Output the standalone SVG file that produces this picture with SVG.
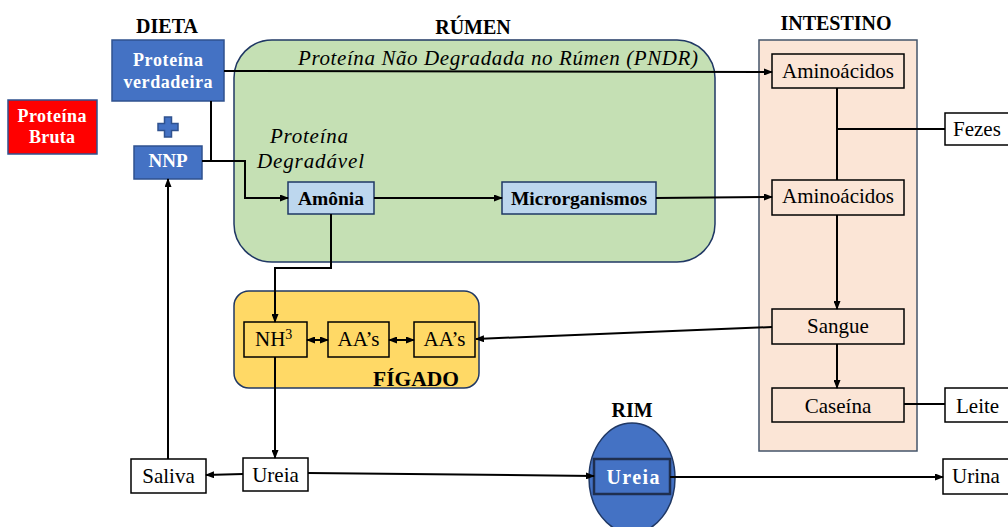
<svg xmlns="http://www.w3.org/2000/svg" width="1008" height="527" viewBox="0 0 1008 527" font-family="'Liberation Serif', 'Times New Roman', serif">
<style>
text{font-family:"Liberation Serif","Times New Roman",serif;fill:#000}
.h{font-family:"Liberation Serif",serif;font-size:20px;font-weight:bold;text-anchor:middle}
.w{font-family:"Liberation Serif",serif;fill:#fff;font-weight:bold;text-anchor:middle;font-size:18px}
.b{font-family:"Liberation Serif",serif;font-weight:bold;text-anchor:middle;font-size:19.5px}
.n{font-family:"Liberation Serif",serif;font-size:21px;text-anchor:middle}
.s{font-family:"Liberation Serif",serif;font-size:21px}
.i{font-family:"Liberation Serif",serif;font-style:italic;font-size:21px}
.box{fill:#fff;stroke:#000;stroke-width:1.5}
.pch{fill:#FBE5D6;stroke:#000;stroke-width:1.5}
.yel{fill:#FFD966;stroke:#000;stroke-width:1.5}
.lb{fill:#BDD7EE;stroke:#1F3864;stroke-width:1.5}
.blue{fill:#4472C4;stroke:#2F528F;stroke-width:1.5}
.c{fill:none;stroke:#000;stroke-width:2}
</style>
<defs>
<marker id="a" markerUnits="userSpaceOnUse" markerWidth="9" markerHeight="7" refX="8" refY="3.5" orient="auto-start-reverse"><path d="M0,0 L9,3.5 L0,7 z" fill="#000"/></marker>
</defs>

<text class="h" x="167" y="33">DIETA</text>
<text class="h" x="473" y="34">RÚMEN</text>
<text class="h" x="836" y="30">INTESTINO</text>

<g id="rumen">
<rect x="234" y="40" width="481" height="222" rx="38" fill="#C5E0B4" stroke="#203864" stroke-width="1.5"/>
<text class="i" x="298" y="65" textLength="400" lengthAdjust="spacing">Proteína Não Degradada no Rúmen (PNDR)</text>
<text class="i" x="270" y="143" textLength="78" lengthAdjust="spacing">Proteína</text>
<text class="i" x="257" y="168" textLength="107" lengthAdjust="spacing">Degradável</text>
</g>

<g id="intestino">
<rect x="759" y="40" width="158" height="411" fill="#FBE5D6" stroke="#44546A" stroke-width="1.5"/>
</g>

<g id="figado">
<rect x="234" y="291" width="245" height="97" rx="15" fill="#FFD966" stroke="#203864" stroke-width="1.5"/>
<text class="h" x="416" y="386" style="font-size:21px" textLength="86" lengthAdjust="spacingAndGlyphs">FÍGADO</text>
</g>

<g id="proteina-bruta">
<rect x="8" y="100" width="89" height="54" fill="#FF0000" stroke="#2F528F" stroke-width="1.5"/>
<text class="w" x="52" y="122" textLength="69" lengthAdjust="spacing">Proteína</text>
<text class="w" x="52" y="143" textLength="46" lengthAdjust="spacing">Bruta</text>
</g>

<g id="proteina-verdadeira">
<rect class="blue" x="112" y="40" width="112" height="61"/>
<text class="w" x="168" y="66" textLength="70" lengthAdjust="spacing">Proteína</text>
<text class="w" x="168" y="88" textLength="89" lengthAdjust="spacing">verdadeira</text>
</g>

<g id="mais">
<path class="blue" d="M164.5,117 h7 v6.5 h6.5 v7 h-6.5 v6.5 h-7 v-6.5 h-6.5 v-7 h6.5 z"/>
</g>

<g id="nnp">
<rect class="blue" x="134" y="146" width="68" height="33"/>
<text class="w" x="168" y="167" style="font-size:19px">NNP</text>
</g>

<g id="amonia">
<rect class="lb" x="288" y="182" width="86" height="32"/>
<text class="b" x="331" y="205">Amônia</text>
</g>

<g id="microrganismos">
<rect class="lb" x="502" y="182" width="154" height="32"/>
<text class="b" x="579" y="205">Microrganismos</text>
</g>

<g id="aminoacidos1">
<rect class="pch" x="772" y="54" width="132" height="34"/>
<text class="n" x="838" y="78">Aminoácidos</text>
</g>
<g id="aminoacidos2">
<rect class="pch" x="772" y="180" width="132" height="35"/>
<text class="n" x="838" y="203">Aminoácidos</text>
</g>
<g id="sangue">
<rect class="pch" x="772" y="309" width="132" height="35"/>
<text class="n" x="838" y="333">Sangue</text>
</g>
<g id="caseina">
<rect class="pch" x="772" y="388" width="132" height="34"/>
<text class="n" x="838" y="413">Caseína</text>
</g>

<g id="fezes">
<rect class="box" x="945" y="113" width="70" height="32"/>
<text class="s" x="953" y="136">Fezes</text>
</g>
<g id="leite">
<rect class="box" x="945" y="388" width="70" height="34"/>
<text class="s" x="956" y="413">Leite</text>
</g>
<g id="urina">
<rect class="box" x="943" y="459" width="70" height="35"/>
<text class="s" x="952" y="483">Urina</text>
</g>

<g id="nh3">
<rect class="yel" x="244" y="322" width="63" height="35"/>
<text class="s" x="255" y="346">NH<tspan dy="-7" style="font-size:14px">3</tspan></text>
</g>
<g id="aas1">
<rect class="yel" x="328" y="322" width="61" height="35"/>
<text class="n" x="358.5" y="346">AA’s</text>
</g>
<g id="aas2">
<rect class="yel" x="414" y="322" width="61" height="35"/>
<text class="n" x="444.5" y="346">AA’s</text>
</g>

<g id="saliva">
<rect class="box" x="131" y="459" width="75" height="34"/>
<text class="n" x="168.5" y="483">Saliva</text>
</g>
<g id="ureia">
<rect class="box" x="243" y="458" width="65" height="33"/>
<text class="n" x="275.5" y="482">Ureia</text>
</g>

<g id="rim">
<text class="h" x="632" y="417">RIM</text>
<ellipse cx="632" cy="478" rx="43" ry="55" fill="#4472C4" stroke="#203864" stroke-width="1.5"/>
<rect x="594" y="459" width="76" height="35" fill="#4472C4" stroke="#1F2F4F" stroke-width="2.5"/>
<text class="w" x="633" y="484" style="font-size:20px" textLength="53" lengthAdjust="spacing">Ureia</text>
</g>

<g id="connectors">
<path class="c" d="M224,71 L772,72" marker-end="url(#a)"/>
<path class="c" d="M211,101 V161"/>
<path class="c" d="M202,161 H245 V198 H288" marker-end="url(#a)"/>
<path class="c" d="M374,198 H502" marker-end="url(#a)"/>
<path class="c" d="M656,198 L772,197" marker-end="url(#a)"/>
<path class="c" d="M331,214 V268 H275 V322" marker-end="url(#a)"/>
<path class="c" d="M307,340 H328" marker-start="url(#a)" marker-end="url(#a)"/>
<path class="c" d="M389,340 H414" marker-start="url(#a)" marker-end="url(#a)"/>
<path class="c" d="M772,327 L476,339" marker-end="url(#a)"/>
<path class="c" d="M837,88 V180"/>
<path class="c" d="M837,129 H945"/>
<path class="c" d="M837,215 V309" marker-end="url(#a)"/>
<path class="c" d="M837,344 V388" marker-end="url(#a)"/>
<path class="c" d="M904,404 H945"/>
<path class="c" d="M275,357 V458" marker-end="url(#a)"/>
<path class="c" d="M243,474 L206,475" marker-end="url(#a)"/>
<path class="c" d="M168,459 V179" marker-end="url(#a)"/>
<path class="c" d="M308,473 L594,476" marker-end="url(#a)"/>
<path class="c" d="M670,477 H943" marker-end="url(#a)"/>
</g>
</svg>
